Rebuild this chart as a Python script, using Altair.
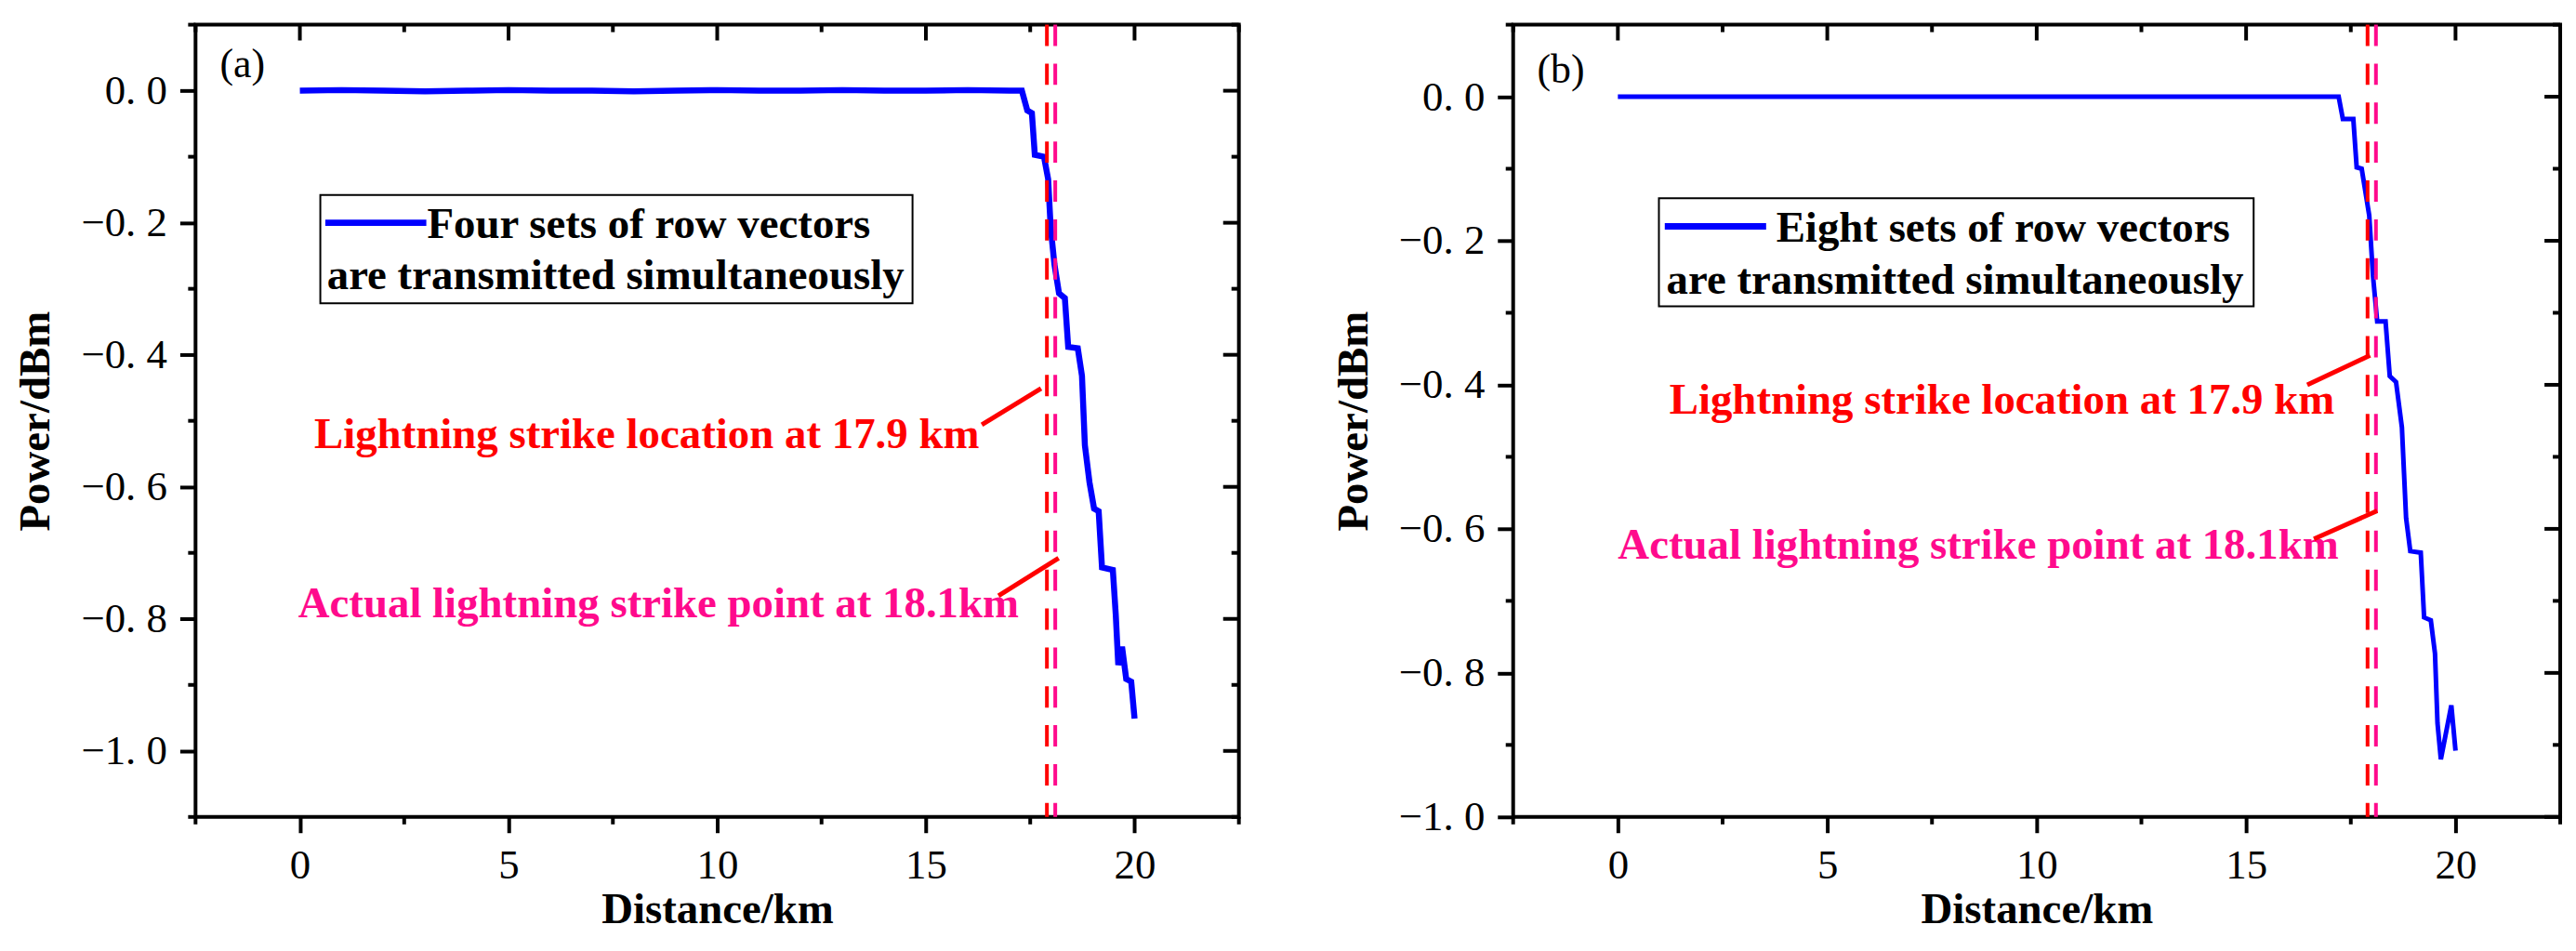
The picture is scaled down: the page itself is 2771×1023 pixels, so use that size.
import altair as alt
import pandas as pd

# Power along the fibre
dist_a = [0, 1, 2, 3, 4, 5, 6, 7, 8, 9, 10, 11, 12, 13, 14, 15, 16, 17,
          17.30, 17.43, 17.54, 17.61, 17.83, 17.93, 17.99, 18.08, 18.19, 18.33,
          18.41, 18.64, 18.74, 18.81, 18.92, 19.03, 19.14, 19.22, 19.48, 19.55,
          19.61, 19.70, 19.80, 19.92, 20.0]
power_a = [0, 0.001, 0, -0.001, 0, 0.001, 0, 0, -0.001, 0, 0.001, 0, 0, 0.001, 0, 0, 0.001, 0,
           0, -0.030, -0.034, -0.097, -0.100, -0.134, -0.207, -0.263, -0.307, -0.314,
           -0.388, -0.390, -0.432, -0.537, -0.593, -0.633, -0.637, -0.722, -0.726, -0.794,
           -0.870, -0.842, -0.891, -0.895, -0.951]

dist_b = [0, 17.21, 17.31, 17.56, 17.64, 17.76, 17.94, 18.03, 18.13, 18.33, 18.43,
          18.58, 18.72, 18.82, 18.92, 19.17, 19.25, 19.41, 19.51, 19.57, 19.65,
          19.76, 19.90, 20.0]
power_b = [0, 0, -0.031, -0.031, -0.098, -0.100, -0.165, -0.249, -0.312, -0.312, -0.388,
           -0.396, -0.459, -0.585, -0.631, -0.633, -0.723, -0.727, -0.773, -0.870, -0.920,
           -0.887, -0.845, -0.908]

strike_est = 17.9    # located strike
strike_real = 18.1   # actual strike

x_major = [0, 5, 10, 15, 20]
x_minor = [-2.5, 2.5, 7.5, 12.5, 17.5, 22.5]
y_major_a = [0, -0.2, -0.4, -0.6, -0.8, -1.0]
y_minor_a = [0.1, -0.1, -0.3, -0.5, -0.7, -0.9, -1.1]
y_major_b = [0, -0.2, -0.4, -0.6, -0.8, -1.0]
y_minor_b = [0.1, -0.1, -0.3, -0.5, -0.7, -0.9]

legend_a = ["Four sets of row vectors", "are transmitted simultaneously"]
legend_b = ["Eight sets of row vectors", "are transmitted simultaneously"]
note_est = "Lightning strike location at 17.9 km"
note_real = "Actual lightning strike point at 18.1km"

# where the annotations sit, in data units
layout_a = dict(tag=(-1.92, 0.02), box=(0.49, 14.68, -0.158, -0.322),
                sample=(0.61, 3.03, -0.200), leg1=(3.05, -0.223), leg2=(0.65, -0.301),
                note1=(16.28, -0.541), note2=(17.23, -0.798),
                ptr1=(16.34, -0.506, 17.76, -0.451), ptr2=(16.74, -0.765, 18.18, -0.708))
layout_b = dict(tag=(-1.93, 0.019), box=(0.98, 15.18, -0.141, -0.291),
                sample=(1.12, 3.54, -0.180), leg1=(3.78, -0.201), leg2=(1.16, -0.274),
                note1=(17.11, -0.440), note2=(17.21, -0.642),
                ptr1=(16.46, -0.400, 17.96, -0.359), ptr2=(16.62, -0.614, 18.13, -0.575))

SERIF = "Liberation Serif"
BLUE, RED, PINK = "#0000FF", "#FF0000", "#FF0A8C"
H = 855
xs = alt.Scale(domain=[-2.5, 22.5], nice=False, zero=False)

x_axis = alt.Axis(values=x_major, tickSize=17, tickWidth=4, tickColor="black",
                  domain=False, grid=False, labelFont=SERIF, labelFontSize=45,
                  labelColor="black", labelPadding=13, title="Distance/km",
                  titleFont=SERIF, titleFontSize=47, titleFontWeight="bold",
                  titleColor="black", titlePadding=2)


def panel(dist, power, w, ydom, ymaj, ymin, lw, tag, legend_lines, L):
    ys = alt.Scale(domain=ydom, nice=False, zero=False)
    y_axis = alt.Axis(values=ymaj, tickSize=17, tickWidth=4, tickColor="black",
                      domain=False, grid=False, labelFont=SERIF, labelFontSize=45,
                      labelColor="black", labelPadding=14,
                      labelExpr="replace(replace(format(datum.value, '.1f'), '.', '. '), '-', '\u2212')",
                      title="Power/dBm", titleFont=SERIF, titleFontSize=47,
                      titleFontWeight="bold", titleColor="black", titlePadding=24)

    # every layer carries the same axis so they merge into one
    def X(f):
        return alt.X(f, type="quantitative", scale=xs, axis=x_axis)

    def Y(f):
        return alt.Y(f, type="quantitative", scale=ys, axis=y_axis)

    def one(**kw):
        return pd.DataFrame([kw])

    curve = alt.Chart(pd.DataFrame({"d": dist, "p": power})).mark_line(
        color=BLUE, strokeWidth=lw).encode(x=X("d"), y=Y("p"))

    est = alt.Chart(pd.DataFrame({"d": [strike_est]})).mark_rule(
        color=RED, strokeWidth=4, strokeDash=[23, 19]).encode(x=X("d"))
    real = alt.Chart(pd.DataFrame({"d": [strike_real]})).mark_rule(
        color=PINK, strokeWidth=4, strokeDash=[23, 19]).encode(x=X("d"))

    bx = L["box"]
    box = alt.Chart(one(x1=bx[0], x2=bx[1], y1=bx[2], y2=bx[3])).mark_rect(
        fill="white", stroke="black", strokeWidth=2).encode(
        x=X("x1"), x2="x2", y=Y("y1"), y2="y2")
    s = L["sample"]
    sample = alt.Chart(one(x1=s[0], x2=s[1], y=s[2])).mark_rule(
        color=BLUE, strokeWidth=7).encode(x=X("x1"), x2="x2", y=Y("y"))

    def text(pos, t, align, color, size=47, weight="bold"):
        return alt.Chart(one(x=pos[0], y=pos[1], t=t)).mark_text(
            align=align, baseline="alphabetic", font=SERIF, fontSize=size,
            fontWeight=weight, color=color).encode(x=X("x"), y=Y("y"), text="t:N")

    texts = [
        text(L["leg1"], legend_lines[0], "left", "black"),
        text(L["leg2"], legend_lines[1], "left", "black"),
        text(L["note1"], note_est, "right", RED),
        text(L["note2"], note_real, "right", PINK),
        text(L["tag"], tag, "left", "black", size=44, weight="normal"),
    ]

    ptrs = []
    for key in ("ptr1", "ptr2"):
        p = L[key]
        ptrs.append(alt.Chart(one(x1=p[0], y1=p[1], x2=p[2], y2=p[3])).mark_rule(
            color=RED, strokeWidth=5).encode(x=X("x1"), y=Y("y1"), x2="x2", y2="y2"))

    # ticks the axes cannot draw: minor ones, and inward ones on top/right
    def tk(vals):
        return alt.Chart(pd.DataFrame({"v": vals}))

    rule = dict(color="black", strokeWidth=4)
    ticks = [
        tk(x_major).mark_rule(**rule).encode(x=X("v"), y=alt.value(0), y2=alt.value(17)),
        tk(x_minor).mark_rule(**rule).encode(x=X("v"), y=alt.value(0), y2=alt.value(8)),
        tk(x_minor).mark_rule(**rule).encode(x=X("v"), y=alt.value(H), y2=alt.value(H + 8)),
        tk(ymaj).mark_rule(**rule).encode(y=Y("v"), x=alt.value(w), x2=alt.value(w - 17)),
        tk(ymin).mark_rule(**rule).encode(y=Y("v"), x=alt.value(w), x2=alt.value(w - 8)),
        tk(ymin).mark_rule(**rule).encode(y=Y("v"), x=alt.value(0), x2=alt.value(-8)),
    ]

    return alt.layer(curve, est, real, box, sample, *texts, *ptrs, *ticks).properties(
        width=w, height=H)


left = panel(dist_a, power_a, 1126, [-1.1, 0.1], y_major_a, y_minor_a, 6.5, "(a)", legend_a, layout_a)
right = panel(dist_b, power_b, 1130, [-1.0, 0.1], y_major_b, y_minor_b, 5, "(b)", legend_b, layout_b)

chart = (
    alt.hconcat(left, right, spacing=94)
    .properties(padding={"left": 5, "top": 13, "right": 5, "bottom": 5}, background="white")
    .configure_view(stroke="black", strokeWidth=4)
)

chart.save("out.html", embed_options={"renderer": "svg", "actions": False})
